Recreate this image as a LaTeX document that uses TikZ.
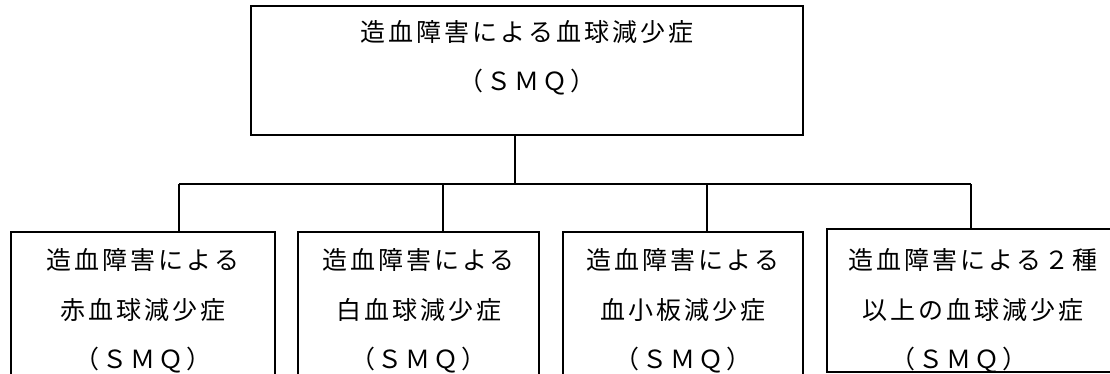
\documentclass[tikz,border=0pt]{standalone}
\usepackage{fontspec}
\newfontfamily\jpfont[LetterSpace=12]{Noto Sans CJK JP}
\begin{document}
\begin{tikzpicture}[x=1pt,y=-1pt,
  box/.style={draw=black, line width=1.5pt, rectangle, inner sep=0pt},
  txt/.style={align=center, inner sep=0pt, font=\jpfont\fontsize{25}{49.5}\selectfont},
  conn/.style={draw=black, line width=1.5pt}]
\useasboundingbox (0,0) rectangle (1110,373);
\fill[white] (0,0) rectangle (1110,373);
% boxes
\node[box, minimum width=552pt, minimum height=129pt] (top) at (527,70.5) {};
\node[box, minimum width=264pt, minimum height=160pt] (b1) at (143,312) {};
\node[box, minimum width=241pt, minimum height=160pt] (b2) at (418.5,312) {};
\node[box, minimum width=240pt, minimum height=160pt] (b3) at (683,312) {};
\node[box, minimum width=300pt, minimum height=143pt] (b4) at (977,300.5) {};
% texts
\node[txt] (ttop) at (527,58) {造血障害による血球減少症\\（ＳＭＱ）};
\node[txt] (t1) at (143,311) {造血障害による\\赤血球減少症\\（ＳＭＱ）};
\node[txt] (t2) at (418.5,311) {造血障害による\\白血球減少症\\（ＳＭＱ）};
\node[txt] (t3) at (683,311) {造血障害による\\血小板減少症\\（ＳＭＱ）};
\node[txt] (t4) at (973,311) {造血障害による２種\\以上の血球減少症\\（ＳＭＱ）\kern28pt};
% connectors
\coordinate (j) at (515,184);
\coordinate (d1) at (179,184);
\coordinate (d2) at (443,184);
\coordinate (d3) at (707,184);
\coordinate (d4) at (971,184);
\draw[conn] (top.south -| j) -- (j);
\draw[conn] (d1) -- (d4);
\draw[conn] (d1) -- (d1 |- b1.north);
\draw[conn] (d2) -- (d2 |- b2.north);
\draw[conn] (d3) -- (d3 |- b3.north);
\draw[conn] (d4) -- (d4 |- b4.north);
\end{tikzpicture}
\end{document}
